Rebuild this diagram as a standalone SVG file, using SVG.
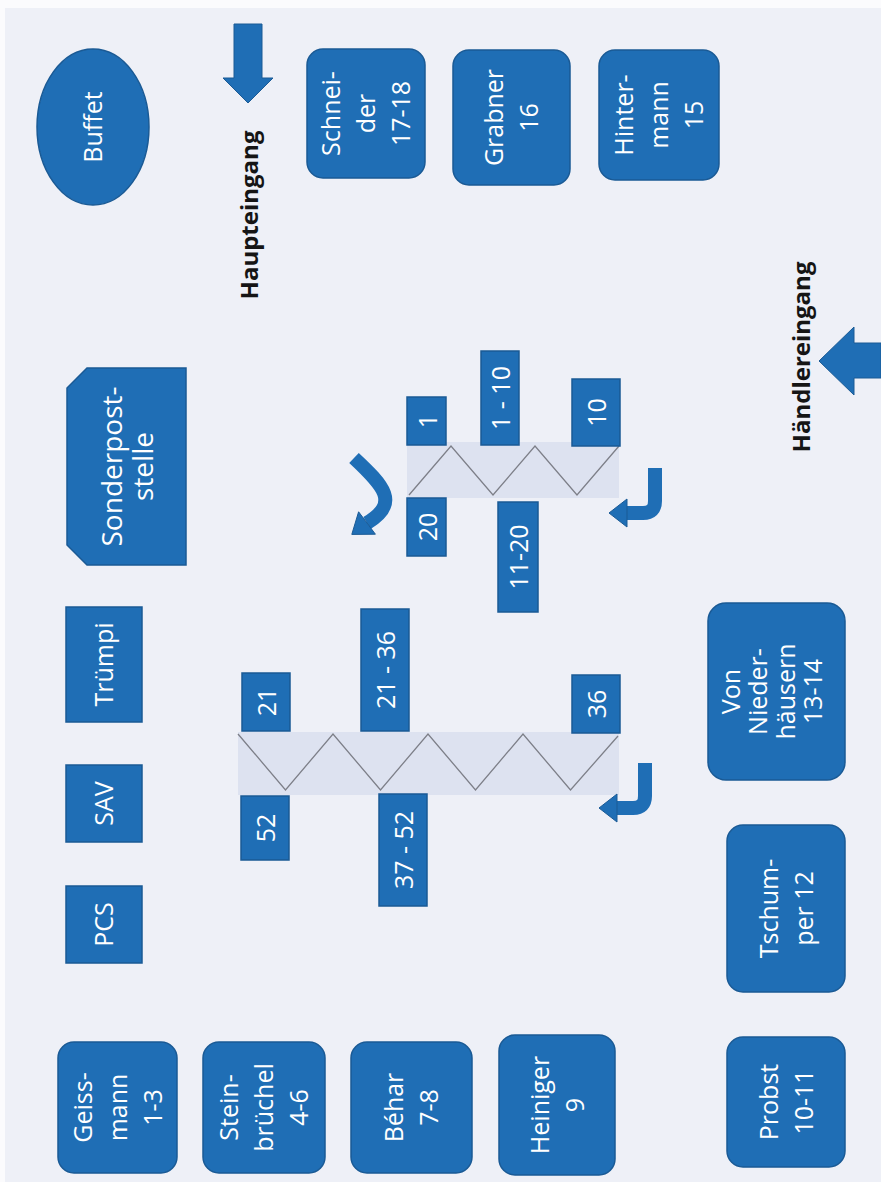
<svg xmlns="http://www.w3.org/2000/svg" width="881" height="1182" viewBox="0 0 881 1182">
<defs>
<style>
.pg{fill:#fbfbfd}
.bg{fill:#eef0f7}
.n{fill:#1f6eb5;stroke:#1a5a95;stroke-width:1.5}
.t{fill:#ffffff;font-family:"Open Sans","Liberation Sans",sans-serif;font-size:25px;text-anchor:middle}
.big{font-size:28px}
.lbl{fill:#151515;font-family:"Open Sans","Liberation Sans",sans-serif;font-weight:bold;font-size:24px;text-anchor:middle}
.band{fill:#dde2f0}
.zz{fill:none;stroke:#7d7f88;stroke-width:1.3}
.ar{fill:#1f6eb5;stroke:#1a5a95;stroke-width:1}
.as{fill:none;stroke:#1f6eb5;stroke-width:14}
</style>
<g id="bent">
<path class="as" d="M0,0 V33 Q0,45 -12,45 H-29"/>
<polygon class="ar" points="-28,31 -28,59 -46,45"/>
</g>
</defs>
<rect class="pg" x="0" y="0" width="881" height="1182"/>
<rect class="bg" x="5" y="8" width="876" height="1174"/>

<g id="connectors">
<g id="band1">
<rect class="band" x="407" y="442" width="212" height="56"/>
<polyline class="zz" points="409,495 451,446 493,495 535,446 577,495 619,446"/>
</g>
<g id="band2">
<rect class="band" x="238" y="732" width="381" height="63"/>
<polyline class="zz" points="238,734 285.5,790 333,734 380.5,790 428,734 475.5,790 523,734 570.5,790 618,736"/>
</g>
<g id="arrow-haupteingang">
<polygon class="ar" points="234,24 262,24 262,78 273,78 248,103 223,78 234,78"/>
</g>
<g id="arrow-haendlereingang">
<polygon class="ar" points="881,343 854,343 854,327 819,361 854,395 854,378 881,378"/>
</g>
<g id="arrow-curved">
<path class="as" d="M354,458 C384,486 400,503 367,523" stroke-width="13"/>
<polygon class="ar" points="375.4,534.2 358.6,511.8 351.8,534.4"/>
</g>
<use id="arrow-bent-1" href="#bent" x="655" y="468"/>
<use id="arrow-bent-2" href="#bent" x="645" y="763"/>
</g>

<g id="label-haupteingang"><text class="lbl" transform="translate(258,215) rotate(-90)">Haupteingang</text></g>
<g id="label-haendlereingang"><text class="lbl" transform="translate(810,357) rotate(-90)">Händlereingang</text></g>

<g id="buffet"><ellipse class="n" cx="93" cy="127" rx="56" ry="78"/><text class="t" transform="translate(93,127) rotate(-90)" y="9">Buffet</text></g>

<g id="schneider"><rect class="n" x="307" y="49" width="118" height="129" rx="16"/><text class="t" transform="translate(366,113.5) rotate(-90)"><tspan x="0" y="-26">Schnei-</tspan><tspan x="0" y="9">der</tspan><tspan x="0" y="44">17-18</tspan></text></g>
<g id="grabner"><rect class="n" x="453" y="50" width="117" height="135" rx="16"/><text class="t" transform="translate(511.5,117.5) rotate(-90)"><tspan x="0" y="-8.5">Grabner</tspan><tspan x="0" y="26.5">16</tspan></text></g>
<g id="hintermann"><rect class="n" x="599" y="50" width="120" height="130" rx="16"/><text class="t" transform="translate(659,115) rotate(-90)"><tspan x="0" y="-26">Hinter-</tspan><tspan x="0" y="9">mann</tspan><tspan x="0" y="44">15</tspan></text></g>

<g id="sonderpoststelle"><polygon class="n" points="87,368 186,368 186,565 87,565 67,545 67,388"/><text class="t big" transform="translate(126.5,466.5) rotate(-90)"><tspan x="0" y="-5">Sonderpost-</tspan><tspan x="0" y="26">stelle</tspan></text></g>
<g id="truempi"><rect class="n" x="66" y="607" width="76" height="115"/><text class="t" transform="translate(104,664.5) rotate(-90)" y="9">Trümpi</text></g>
<g id="sav"><rect class="n" x="66" y="765" width="76" height="77"/><text class="t" transform="translate(104,803.5) rotate(-90)" y="9">SAV</text></g>
<g id="pcs"><rect class="n" x="66" y="886" width="76" height="77"/><text class="t" transform="translate(104,924.5) rotate(-90)" y="9">PCS</text></g>

<g id="geissmann"><rect class="n" x="58" y="1042" width="119" height="131" rx="16"/><text class="t" transform="translate(117.5,1107.5) rotate(-90)"><tspan x="0" y="-26">Geiss-</tspan><tspan x="0" y="9">mann</tspan><tspan x="0" y="44">1-3</tspan></text></g>
<g id="steinbruechel"><rect class="n" x="203" y="1042" width="122" height="131" rx="16"/><text class="t" transform="translate(264,1107.5) rotate(-90)"><tspan x="0" y="-26">Stein-</tspan><tspan x="0" y="9">brüchel</tspan><tspan x="0" y="44">4-6</tspan></text></g>
<g id="behar"><rect class="n" x="351" y="1042" width="121" height="131" rx="16"/><text class="t" transform="translate(411.5,1107.5) rotate(-90)"><tspan x="0" y="-8.5">Béhar</tspan><tspan x="0" y="26.5">7-8</tspan></text></g>
<g id="heiniger"><rect class="n" x="499" y="1035" width="116" height="140" rx="16"/><text class="t" transform="translate(557,1105) rotate(-90)"><tspan x="0" y="-8.5">Heiniger</tspan><tspan x="0" y="26.5">9</tspan></text></g>
<g id="probst"><rect class="n" x="727" y="1037" width="118" height="130" rx="16"/><text class="t" transform="translate(786,1102) rotate(-90)"><tspan x="0" y="-8.5">Probst</tspan><tspan x="0" y="26.5">10-11</tspan></text></g>
<g id="tschumper"><rect class="n" x="727" y="825" width="118" height="167" rx="16"/><text class="t" transform="translate(786,908.5) rotate(-90)"><tspan x="0" y="-8.5">Tschum-</tspan><tspan x="0" y="26.5">per 12</tspan></text></g>
<g id="vonniederhaeusern"><rect class="n" x="708" y="603" width="137" height="177" rx="18"/><text class="t" transform="translate(776.5,691.5) rotate(-90)"><tspan x="0" y="-37">Von</tspan><tspan x="0" y="-9.5">Nieder-</tspan><tspan x="0" y="18">häusern</tspan><tspan x="0" y="45.5">13-14</tspan></text></g>

<g id="n1"><rect class="n" x="407" y="397" width="39" height="48"/><text class="t" transform="translate(426.5,421) rotate(-90)" y="10">1</text></g>
<g id="n1-10"><rect class="n" x="481" y="351" width="38" height="94"/><text class="t" transform="translate(500,398) rotate(-90)" y="10">1 - 10</text></g>
<g id="n10"><rect class="n" x="572" y="379" width="48" height="67"/><text class="t" transform="translate(596,412.5) rotate(-90)" y="10">10</text></g>
<g id="n20"><rect class="n" x="407" y="498" width="39" height="58"/><text class="t" transform="translate(426.5,527) rotate(-90)" y="10">20</text></g>
<g id="n11-20"><rect class="n" x="498" y="502" width="40" height="110"/><text class="t" transform="translate(518,557) rotate(-90)" y="10">11-20</text></g>
<g id="n21"><rect class="n" x="242" y="673" width="48" height="58"/><text class="t" transform="translate(266,702) rotate(-90)" y="10">21</text></g>
<g id="n21-36"><rect class="n" x="361" y="609" width="48" height="122"/><text class="t" transform="translate(385,670) rotate(-90)" y="10">21 - 36</text></g>
<g id="n36"><rect class="n" x="572" y="675" width="48" height="58"/><text class="t" transform="translate(596,704) rotate(-90)" y="10">36</text></g>
<g id="n52"><rect class="n" x="241" y="796" width="48" height="64"/><text class="t" transform="translate(265,828) rotate(-90)" y="10">52</text></g>
<g id="n37-52"><rect class="n" x="379" y="794" width="48" height="112"/><text class="t" transform="translate(403,850) rotate(-90)" y="10">37 - 52</text></g>
</svg>
